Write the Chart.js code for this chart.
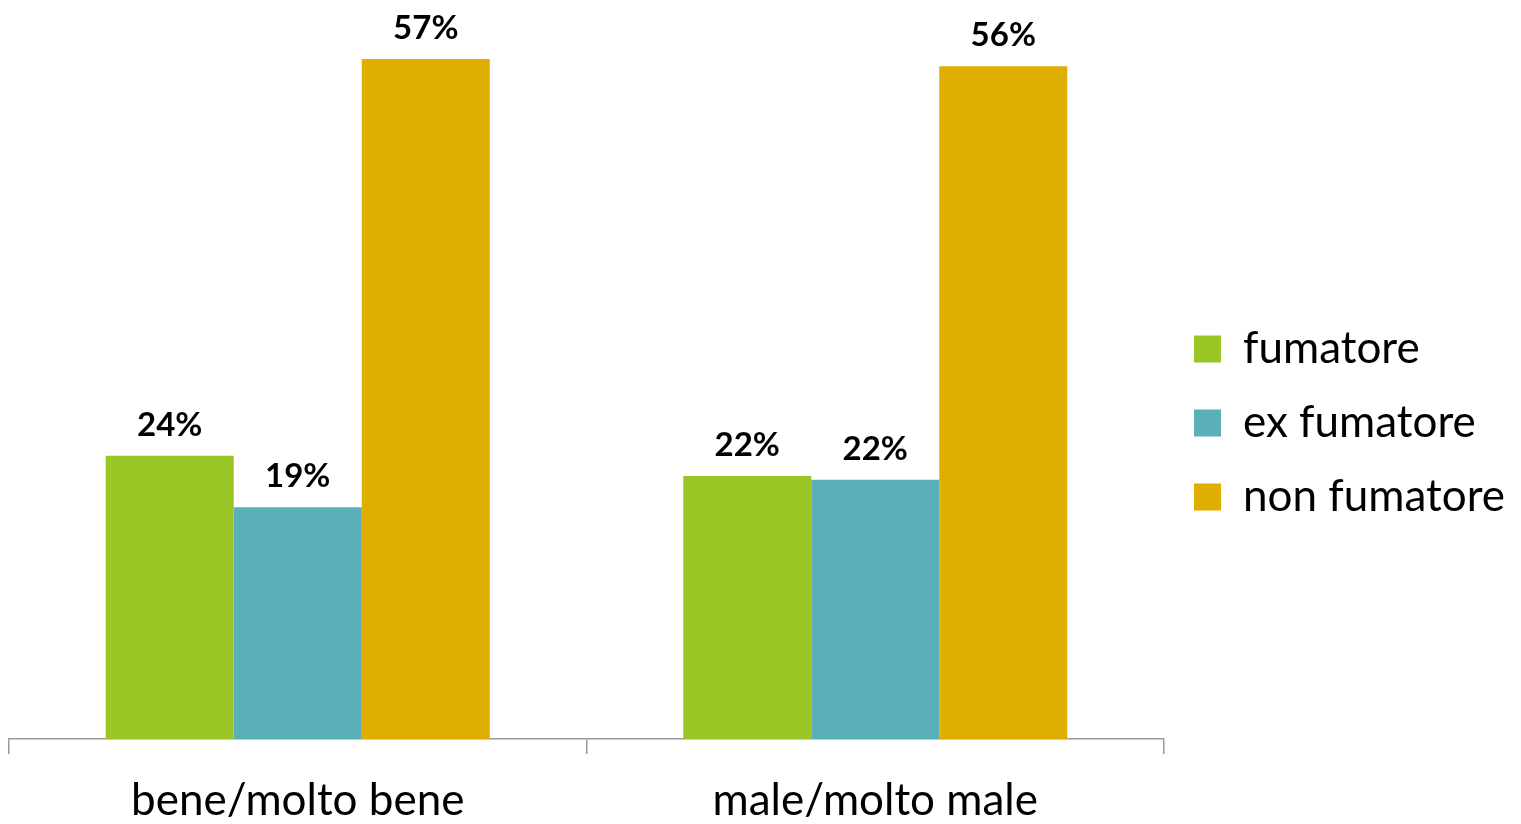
<!DOCTYPE html>
<html>
<head>
<meta charset="utf-8">
<script src="https://cdn.jsdelivr.net/npm/chart.js@4/dist/chart.umd.min.js"></script>
<style>
  html, body { margin: 0; padding: 0; background: #fff; }
  #wrap { width: 1521px; height: 824px; }
</style>
</head>
<body>
<div id="wrap"><canvas id="c" width="1521" height="824"></canvas></div>
<script>
const categories = ["bene/molto bene", "male/molto male"];
const seriesNames = ["fumatore", "ex fumatore", "non fumatore"];
const fumatore = [23.7, 22.0];
const exFumatore = [19.4, 21.7];
const nonFumatore = [56.9, 56.3];
const colors = ["#9BC726", "#5BAFB8", "#DEAF00"];
const yMax = 60;

const FONT = "Lato, 'Open Sans', sans-serif";

const valueLabels = {
  id: 'valueLabels',
  afterDatasetsDraw(chart) {
    const ctx = chart.ctx;
    ctx.save();
    ctx.font = "bold 33px " + FONT;
    ctx.fillStyle = "#000";
    ctx.textAlign = "center";
    ctx.textBaseline = "alphabetic";
    chart.data.datasets.forEach((ds, i) => {
      const meta = chart.getDatasetMeta(i);
      meta.data.forEach((bar, j) => {
        ctx.fillText(Math.round(ds.data[j]) + "%", bar.x, bar.y - 20);
      });
    });
    ctx.restore();
  }
};

new Chart(document.getElementById('c'), {
  type: 'bar',
  data: {
    labels: categories,
    datasets: [
      { label: seriesNames[0], data: fumatore, backgroundColor: colors[0] },
      { label: seriesNames[1], data: exFumatore, backgroundColor: colors[1] },
      { label: seriesNames[2], data: nonFumatore, backgroundColor: colors[2] }
    ]
  },
  options: {
    responsive: false,
    animation: false,
    devicePixelRatio: 1,
    layout: { padding: { left: 9, top: 22, bottom: 0, right: 6 } },
    datasets: { bar: { barPercentage: 1.0, categoryPercentage: 0.665, borderWidth: 0 } },
    scales: {
      x: {
        grid: { offset: true, drawOnChartArea: false, drawTicks: true, tickLength: 15, color: '#999', lineWidth: 1.5 },
        border: { display: true, color: '#999', width: 1.5 },
        ticks: { font: { family: FONT, size: 44 }, color: '#000', padding: 20 },
        afterFit(scale) { scale.height = 85; }
      },
      y: { display: false, min: 0, max: yMax }
    },
    plugins: {
      legend: {
        position: 'right',
        labels: {
          font: { family: FONT, size: 44 },
          color: '#000',
          boxWidth: 27,
          boxHeight: 27,
          padding: 30
        }
      },
      tooltip: { enabled: false }
    }
  },
  plugins: [valueLabels]
});
</script>
</body>
</html>
